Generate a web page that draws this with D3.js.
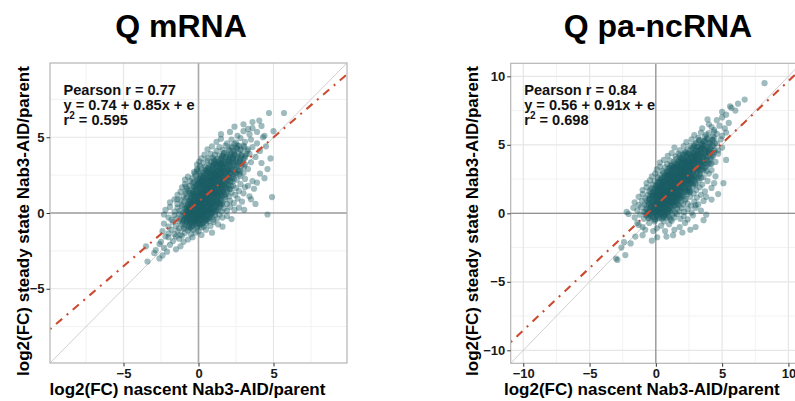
<!DOCTYPE html>
<meta charset="utf-8">
<style>
  body { margin: 0; background: #fff; }
  text { font-family: "Liberation Sans", Arial, sans-serif; font-weight: bold; }
  .tick text { font-size: 13px; fill: #1a1a1a; }
  .tick line { stroke: #333; }
</style>
<body>
<script src="https://cdn.jsdelivr.net/npm/d3@7"></script>
<script>

// values (log2 fold changes, nascent vs steady state)
var titles = ['Q mRNA', 'Q pa-ncRNA'];
var pearsonR = ['0.77', '0.84'];
var intercepts = [0.74, 0.56];
var slopes = [0.85, 0.91];
var rSquared = ['0.595', '0.698'];
var tickVals = [[-5, 0, 5], [-10, -5, 0, 5, 10]];
var minorVals = [[-7.5, -2.5, 2.5, 7.5], [-7.5, -2.5, 2.5, 7.5]];
var xLabel = 'log2(FC) nascent Nab3-AID/parent';
var yLabel = 'log2(FC) steady state Nab3-AID/parent';

var mrnaPts = [
  [-3.4,-3.2],[-2.6,-3.0],[-2.95,-2.65],[-2.4,-2.8],[-2.1,-2.55],
  [-3.5,-2.2],[-2.85,-2.45],[-2.3,-2.3],[-1.9,-2.1],[-1.5,-2.4],[-2.6,-2.05],[-1.2,-2.2],
  [-2.5,-1.9],[-2.0,-1.6],[-1.7,-1.85],[-1.3,-1.7],[-1.0,-1.9],[-2.2,-1.55],[-1.5,-1.55],[-0.7,-1.75],[-0.4,-1.6],[-1.1,-1.5],
  [-2.4,-1.2],[-2.0,-1.35],[-1.8,-1.1],[-1.6,-1.4],[-1.4,-1.2],[-1.2,-1.45],[-1.0,-1.05],[-0.9,-1.3],[-0.7,-1.15],[-0.5,-1.4],[-0.35,-1.1],[-0.2,-1.3],[0.0,-1.2],[0.2,-1.45],[0.5,-1.1],[0.9,-1.3],[-1.3,-1.0],[-0.6,-1.0],
  [-2.3,-0.7],[-2.0,-0.9],[-1.7,-0.6],[-1.5,-0.85],[-1.3,-0.55],[-1.1,-0.75],[-0.95,-0.95],[-0.8,-0.6],[-0.7,-0.8],[-0.55,-0.65],[-0.45,-0.9],[-0.3,-0.55],[-0.2,-0.75],[-0.1,-0.95],[0.0,-0.6],[0.1,-0.8],[0.25,-0.65],[0.35,-0.9],[0.5,-0.7],[0.65,-0.55],[0.8,-0.85],[1.0,-0.6],[1.3,-0.75],[1.6,-0.9],[-0.6,-0.52],[-0.15,-0.52],[0.45,-0.52],[-1.0,-0.52],[0.2,-0.95],[-0.4,-0.7],
  [-2.3,-0.1],[-2.0,-0.3],[-1.8,-0.45],[-1.6,-0.15],[-1.45,-0.35],[-1.3,-0.05],[-1.2,-0.4],[-1.1,-0.2],[-1.0,-0.45],[-0.9,-0.1],[-0.85,-0.3],[-0.75,-0.45],[-0.7,-0.05],[-0.6,-0.25],[-0.55,-0.4],[-0.45,-0.15],[-0.4,-0.35],[-0.3,-0.05],[-0.25,-0.25],[-0.2,-0.45],[-0.1,-0.15],[-0.05,-0.35],[0.0,-0.05],[0.1,-0.25],[0.15,-0.45],[0.2,-0.1],[0.3,-0.3],[0.35,-0.05],[0.45,-0.2],[0.5,-0.4],[0.6,-0.1],[0.7,-0.3],[0.8,-0.05],[0.9,-0.25],[1.0,-0.45],[1.1,-0.15],[1.25,-0.35],[1.4,-0.1],[1.6,-0.3],[1.9,-0.2],[2.2,-0.4],[-0.65,-0.15],[-0.15,-0.3],[0.25,-0.2],[0.55,-0.45],[4.6,-0.1],
  [-2.2,0.2],[-1.9,0.4],[-1.6,0.1],[-1.4,0.35],[-1.25,0.15],[-1.1,0.45],[-1.0,0.05],[-0.9,0.3],[-0.8,0.15],[-0.7,0.45],[-0.6,0.05],[-0.55,0.25],[-0.45,0.4],[-0.4,0.1],[-0.3,0.3],[-0.25,0.05],[-0.15,0.2],[-0.1,0.45],[0.0,0.1],[0.05,0.3],[0.15,0.05],[0.2,0.4],[0.3,0.2],[0.35,0.45],[0.45,0.1],[0.5,0.3],[0.6,0.05],[0.65,0.4],[0.75,0.2],[0.85,0.45],[0.9,0.1],[1.0,0.3],[1.1,0.05],[1.2,0.4],[1.3,0.2],[1.45,0.45],[1.55,0.1],[1.7,0.3],[1.9,0.15],[2.1,0.4],[2.4,0.2],[2.7,0.35],[3.05,0.2],[3.8,0.6],[-0.2,0.25],[0.4,0.25],[0.8,0.3],[1.15,0.2],[-0.5,0.2],[0.1,0.2],[0.55,0.15],[-0.75,0.3],[0.25,0.1],[0.7,0.1],[1.35,0.35],
  [-1.9,0.7],[-1.6,0.9],[-1.4,0.6],[-1.2,0.85],[-1.05,0.55],[-0.95,0.75],[-0.85,0.95],[-0.7,0.6],[-0.6,0.8],[-0.5,0.55],[-0.45,0.95],[-0.35,0.7],[-0.25,0.9],[-0.2,0.55],[-0.1,0.75],[0.0,0.95],[0.05,0.6],[0.15,0.8],[0.2,0.55],[0.3,0.95],[0.35,0.7],[0.45,0.85],[0.5,0.6],[0.6,0.9],[0.65,0.7],[0.75,0.55],[0.8,0.85],[0.9,0.65],[1.0,0.95],[1.05,0.7],[1.15,0.55],[1.25,0.85],[1.35,0.65],[1.45,0.95],[1.6,0.7],[1.75,0.9],[1.9,0.6],[2.1,0.8],[2.35,0.65],[2.6,0.95],[2.9,0.75],[-1.4,0.9],[0.1,0.7],[0.55,0.75],[0.95,0.8],[-0.15,0.65],[0.4,0.6],[0.7,0.95],[1.2,0.75],[-0.55,0.7],[0.25,0.85],[0.85,0.6],[1.5,0.6],[-0.3,0.85],[4.9,1.05],[3.5,0.9],
  [-1.4,1.2],[-1.2,1.4],[-1.0,1.1],[-0.85,1.3],[-0.75,1.05],[-0.65,1.45],[-0.5,1.2],[-0.4,1.35],[-0.3,1.1],[-0.2,1.45],[-0.1,1.25],[0.0,1.05],[0.1,1.35],[0.15,1.15],[0.25,1.45],[0.3,1.25],[0.4,1.05],[0.45,1.35],[0.55,1.2],[0.6,1.45],[0.7,1.1],[0.75,1.3],[0.85,1.45],[0.9,1.15],[1.0,1.35],[1.05,1.05],[1.15,1.25],[1.2,1.45],[1.3,1.1],[1.4,1.3],[1.5,1.15],[1.6,1.4],[1.75,1.2],[1.9,1.45],[2.05,1.1],[2.2,1.35],[2.45,1.2],[2.7,1.45],[3.0,1.3],[3.4,1.1],[-0.85,1.45],[0.05,1.2],[0.35,1.4],[0.65,1.25],[0.95,1.3],[1.25,1.2],[-0.35,1.25],[0.5,1.1],[0.8,1.2],[1.45,1.45],[-0.6,1.3],[0.2,1.3],[1.1,1.4],[0.6,1.3],[-0.15,1.15],
  [-1.1,1.7],[-0.9,1.9],[-0.75,1.6],[-0.6,1.8],[-0.5,1.55],[-0.4,1.95],[-0.3,1.7],[-0.2,1.85],[-0.1,1.6],[0.0,1.9],[0.1,1.7],[0.2,1.55],[0.25,1.95],[0.35,1.75],[0.45,1.6],[0.5,1.9],[0.6,1.7],[0.7,1.55],[0.75,1.85],[0.85,1.65],[0.95,1.95],[1.0,1.75],[1.1,1.55],[1.2,1.85],[1.3,1.65],[1.4,1.95],[1.5,1.75],[1.6,1.55],[1.7,1.85],[1.8,1.65],[1.95,1.9],[2.1,1.6],[2.3,1.8],[2.5,1.65],[2.8,1.9],[3.1,1.7],[-0.85,1.75],[0.3,1.8],[0.65,1.8],[1.05,1.9],[1.35,1.8],[0.15,1.85],[0.9,1.6],[1.25,1.7],[0.55,1.65],[-0.25,1.75],[1.55,1.9],[0.4,1.85],[0.8,1.75],[3.7,1.6],[3.3,1.8],
  [-0.9,2.2],[-0.7,2.4],[-0.55,2.1],[-0.4,2.3],[-0.3,2.05],[-0.2,2.45],[-0.05,2.25],[0.05,2.05],[0.15,2.4],[0.25,2.2],[0.35,2.45],[0.4,2.1],[0.5,2.3],[0.6,2.05],[0.65,2.45],[0.75,2.2],[0.85,2.4],[0.9,2.1],[1.0,2.3],[1.1,2.05],[1.15,2.45],[1.25,2.2],[1.35,2.4],[1.45,2.1],[1.55,2.3],[1.65,2.05],[1.75,2.45],[1.85,2.2],[2.0,2.35],[2.15,2.1],[2.3,2.4],[2.55,2.2],[2.8,2.45],[3.1,2.25],[3.6,2.1],[0.3,2.3],[0.7,2.3],[1.05,2.2],[1.4,2.25],[0.55,2.2],[0.95,2.4],[1.2,2.3],[-0.1,2.15],[1.6,2.4],[0.2,2.1],[0.8,2.1],[3.9,2.0],[4.4,2.3],
  [-0.3,2.7],[-0.1,2.9],[-0.25,2.6],[-0.1,2.8],[0.1,2.55],[0.2,2.95],[0.3,2.7],[0.45,2.85],[0.55,2.6],[0.65,2.95],[0.75,2.7],[0.85,2.55],[0.95,2.85],[1.05,2.65],[1.15,2.95],[1.25,2.75],[1.35,2.55],[1.45,2.85],[1.55,2.65],[1.65,2.95],[1.75,2.7],[1.85,2.55],[1.95,2.85],[2.1,2.65],[2.25,2.9],[2.45,2.6],[2.7,2.8],[3.0,2.65],[3.3,2.9],[0.4,2.65],[0.9,2.7],[1.3,2.8],[1.6,2.75],[0.6,2.8],[1.1,2.6],[2.0,2.75],[0.0,2.75],[1.45,2.65],[4.1,2.6],[4.6,2.9],
  [-0.1,3.2],[0.05,3.4],[0.1,3.1],[0.3,3.3],[0.45,3.05],[0.6,3.45],[0.7,3.2],[0.85,3.35],[0.95,3.1],[1.05,3.45],[1.15,3.25],[1.25,3.05],[1.35,3.4],[1.45,3.2],[1.55,3.05],[1.65,3.45],[1.75,3.25],[1.85,3.1],[1.95,3.4],[2.05,3.2],[2.2,3.05],[2.35,3.35],[2.55,3.15],[2.8,3.4],[3.1,3.2],[3.5,3.35],[1.0,3.2],[1.5,3.3],[0.8,3.1],[2.1,3.4],[1.3,3.2],[4.2,3.3],
  [0.2,3.6],[0.4,3.85],[0.6,3.6],[0.8,3.9],[0.95,3.65],[1.1,3.85],[1.25,3.55],[1.4,3.8],[1.55,3.6],[1.7,3.95],[1.85,3.7],[2.0,3.55],[2.1,3.85],[2.25,3.65],[2.4,3.9],[2.6,3.6],[2.85,3.8],[3.1,3.65],[3.4,3.9],[3.8,3.7],[1.6,3.75],[2.3,3.75],[1.0,3.55],[4.8,3.6],
  [0.6,4.2],[0.9,4.4],[1.2,4.1],[1.4,4.35],[1.6,4.15],[1.8,4.45],[2.0,4.2],[2.2,4.4],[2.35,4.1],[2.55,4.3],[2.8,4.15],[3.0,4.45],[3.3,4.2],[3.6,4.35],[4.1,4.1],[2.6,4.45],[4.5,4.4],
  [1.2,4.7],[1.5,4.9],[1.9,4.6],[2.2,4.85],[2.5,4.65],[2.8,4.95],[3.1,4.7],[3.5,4.85],[3.9,4.6],[2.4,4.55],[4.3,5.0],
  [1.5,5.2],[2.1,5.35],[2.6,5.1],[3.0,5.4],[3.4,5.2],[3.9,5.35],[4.4,5.1],[5.0,5.4],
  [2.4,5.7],[3.0,5.85],[3.6,5.6],[4.2,5.75],[3.3,5.55],
  [3.6,6.0],[4.05,6.1],[4.7,6.6],[5.7,6.6],
  // dense core
  [-1.05,-0.62],[-0.9,-0.78],[-0.78,-0.55],[-0.66,-0.92],[-0.58,-0.7],[-0.47,-0.57],[-0.38,-0.83],[-0.28,-0.66],[-0.18,-0.58],[-0.08,-0.88],[0.02,-0.72],[0.12,-0.56],[0.22,-0.75],[0.33,-0.62],[-0.52,-0.98],
  [-0.98,-0.18],[-0.9,-0.38],[-0.82,-0.08],[-0.74,-0.27],[-0.67,-0.45],[-0.6,-0.12],[-0.52,-0.32],[-0.44,-0.04],[-0.37,-0.22],[-0.3,-0.42],[-0.22,-0.1],[-0.15,-0.36],[-0.07,-0.2],[0.0,-0.4],[0.07,-0.06],[0.14,-0.28],[0.22,-0.44],[0.29,-0.14],[0.37,-0.34],[0.44,-0.02],[0.52,-0.24],[0.6,-0.4],[0.68,-0.16],[0.77,-0.3],[0.86,-0.08],
  [-0.88,0.08],[-0.8,0.28],[-0.72,0.42],[-0.65,0.16],[-0.58,0.34],[-0.5,0.04],[-0.43,0.22],[-0.36,0.46],[-0.29,0.12],[-0.22,0.32],[-0.15,0.02],[-0.08,0.24],[-0.01,0.44],[0.06,0.14],[0.13,0.36],[0.2,0.06],[0.27,0.28],[0.34,0.48],[0.41,0.18],[0.48,0.38],[0.55,0.08],[0.62,0.26],[0.69,0.44],[0.76,0.14],[0.84,0.34],[0.92,0.04],[1.0,0.22],[1.08,0.42],[1.16,0.12],[0.3,0.16],
  [-0.68,0.58],[-0.6,0.78],[-0.52,0.94],[-0.45,0.64],[-0.37,0.84],[-0.29,0.54],[-0.21,0.72],[-0.13,0.96],[-0.05,0.62],[0.03,0.82],[0.11,0.52],[0.19,0.74],[0.27,0.92],[0.35,0.6],[0.43,0.8],[0.51,0.98],[0.59,0.66],[0.67,0.86],[0.75,0.56],[0.83,0.76],[0.91,0.94],[0.99,0.64],[1.07,0.84],[1.15,0.54],[1.23,0.72],[1.31,0.92],[1.39,0.62],[1.48,0.82],[1.56,0.56],[0.4,0.68],
  [-0.48,1.08],[-0.4,1.28],[-0.32,1.46],[-0.24,1.14],[-0.16,1.34],[-0.08,1.04],[0.0,1.22],[0.08,1.44],[0.16,1.12],[0.24,1.32],[0.32,1.02],[0.4,1.24],[0.48,1.42],[0.56,1.1],[0.64,1.3],[0.72,1.48],[0.8,1.16],[0.88,1.36],[0.96,1.06],[1.04,1.26],[1.12,1.44],[1.2,1.14],[1.28,1.34],[1.36,1.04],[1.44,1.22],[1.52,1.42],[1.6,1.12],[1.69,1.32],[1.78,1.06],[1.86,1.26],
  [-0.18,1.58],[-0.1,1.78],[-0.02,1.96],[0.06,1.64],[0.14,1.84],[0.22,1.54],[0.3,1.72],[0.38,1.94],[0.46,1.62],[0.54,1.82],[0.62,1.52],[0.7,1.74],[0.78,1.92],[0.86,1.6],[0.94,1.8],[1.02,1.98],[1.1,1.66],[1.18,1.86],[1.26,1.56],[1.34,1.76],[1.42,1.94],[1.5,1.64],[1.58,1.84],[1.66,1.54],[1.74,1.72],[1.82,1.92],[1.9,1.62],[1.98,1.82],[2.07,1.56],[2.16,1.76],
  [0.02,2.08],[0.1,2.28],[0.18,2.46],[0.26,2.14],[0.34,2.34],[0.42,2.04],[0.5,2.22],[0.58,2.44],[0.66,2.12],[0.74,2.32],[0.82,2.02],[0.9,2.24],[0.98,2.42],[1.06,2.1],[1.14,2.3],[1.22,2.48],[1.3,2.16],[1.38,2.36],[1.46,2.06],[1.54,2.26],[1.62,2.44],[1.7,2.14],[1.78,2.34],[1.86,2.04],[1.94,2.22],[2.02,2.42],[2.1,2.12],[2.18,2.32],[2.27,2.06],[2.36,2.26],
  [0.45,2.58],[0.53,2.78],[0.61,2.96],[0.69,2.64],[0.77,2.84],[0.85,2.54],[0.93,2.72],[1.01,2.94],[1.09,2.62],[1.17,2.82],[1.25,2.52],[1.33,2.74],[1.41,2.92],[1.49,2.6],[1.57,2.8],[1.65,2.98],[1.73,2.66],[1.81,2.86],[1.89,2.56],[1.97,2.76],[2.05,2.94],[2.13,2.64],[2.21,2.84],[2.29,2.54],[2.37,2.72],[2.45,2.92],[2.53,2.62],[2.61,2.82],[2.7,2.56],[2.78,2.76],
  [0.95,3.08],[1.04,3.28],[1.13,3.46],[1.22,3.14],[1.31,3.34],[1.4,3.04],[1.49,3.22],[1.58,3.44],[1.67,3.12],[1.76,3.32],[1.85,3.02],[1.94,3.24],[2.03,3.42],[2.12,3.1],[2.21,3.3],[2.3,3.48],[2.39,3.16],[2.48,3.36],[2.57,3.06],[2.66,3.26],[2.75,3.44],[2.84,3.14],[2.93,3.34],[3.02,3.04],[1.6,3.28],
  [1.5,3.58],[1.6,3.78],[1.7,3.96],[1.8,3.64],[1.9,3.84],[2.0,3.54],[2.1,3.72],[2.2,3.94],[2.3,3.62],[2.4,3.82],[2.5,3.52],[2.6,3.74],[2.7,3.92],[2.8,3.6],[2.9,3.8],[3.0,3.56],[3.1,3.76],[3.2,3.9],
  [2.05,4.12],[2.2,4.32],[2.4,4.08],[2.55,4.26],[2.7,4.44],[2.85,4.18],[3.05,4.36],[3.25,4.1]
];

var ncPts = [
  [-2.9,-3.4],[-3.0,-3.3],[-2.3,-3.05],[-2.6,-2.5],
  [-2.4,-2.1],[-1.9,-2.2],[-1.55,-1.7],[0.1,-1.75],[0.8,-1.7],[-0.3,-2.0],[1.3,-1.6],[-1.0,-1.6],
  [-1.3,-0.85],[-0.8,-1.2],[0.07,-1.1],[1.8,-1.0],[3.0,-1.0],[3.6,-0.5],[-1.4,-0.7],[-0.5,-0.7],[-0.2,-1.3],[0.4,-0.9],[0.7,-1.3],[1.0,-0.8],[1.4,-1.2],[2.2,-0.7],[2.6,-1.2],[-0.1,-0.6],[0.6,-0.6],[1.2,-0.55],[2.0,-1.4],[-1.0,-1.0],
  [-2.06,-0.05],[-1.6,-0.3],[-1.2,-0.1],[-0.9,-0.4],[-0.7,-0.15],[-0.5,-0.35],[-0.35,-0.05],[-0.2,-0.25],[-0.05,-0.45],[0.05,-0.1],[0.2,-0.3],[0.3,-0.05],[0.45,-0.4],[0.55,-0.2],[0.7,-0.05],[0.8,-0.35],[0.95,-0.15],[1.1,-0.45],[1.25,-0.1],[1.4,-0.3],[1.6,-0.05],[1.85,-0.4],[2.1,-0.2],[2.4,-0.45],[2.8,-0.15],[3.8,-0.1],[0.1,-0.2],[0.6,-0.25],[-0.4,-0.2],[1.0,-0.3],
  [-2.2,0.1],[-1.7,0.4],[-1.4,0.2],[-1.1,0.45],[-0.9,0.1],[-0.7,0.3],[-0.55,0.05],[-0.4,0.4],[-0.3,0.2],[-0.15,0.05],[-0.05,0.35],[0.05,0.15],[0.15,0.45],[0.25,0.05],[0.35,0.3],[0.45,0.1],[0.55,0.4],[0.65,0.2],[0.75,0.45],[0.85,0.05],[0.95,0.3],[1.05,0.15],[1.15,0.45],[1.3,0.25],[1.45,0.05],[1.6,0.35],[1.75,0.15],[1.95,0.4],[2.15,0.1],[2.4,0.3],[2.7,0.05],[3.0,0.4],[3.4,0.2],[0.2,0.25],[0.6,0.1],[0.9,0.2],[-0.2,0.3],[0.4,0.2],[1.2,0.35],[0.0,0.1],
  [-1.6,0.8],[-1.3,0.6],[-1.05,0.9],[-0.85,0.65],[-0.65,0.95],[-0.5,0.7],[-0.35,0.55],[-0.25,0.85],[-0.1,0.65],[0.0,0.95],[0.1,0.7],[0.2,0.55],[0.25,0.9],[0.35,0.75],[0.45,0.6],[0.5,0.95],[0.6,0.8],[0.7,0.55],[0.75,0.9],[0.85,0.7],[0.95,0.55],[1.0,0.85],[1.1,0.65],[1.2,0.95],[1.3,0.75],[1.4,0.55],[1.5,0.9],[1.6,0.7],[1.75,0.6],[1.9,0.85],[2.05,0.65],[2.2,0.95],[2.4,0.7],[2.65,0.55],[2.9,0.85],[3.2,0.65],[3.0,0.6],[3.6,0.9],[4.2,1.0],[0.3,0.65],[0.65,0.7],[0.9,0.9],[1.15,0.8],[0.05,0.8],[0.55,0.65],[1.35,0.85],[-0.2,0.75],[0.8,0.6],[1.7,0.95],[0.4,0.85],
  [-1.3,1.2],[-1.0,1.4],[-0.8,1.1],[-0.6,1.35],[-0.45,1.05],[-0.3,1.25],[-0.15,1.45],[-0.05,1.15],[0.1,1.35],[0.2,1.05],[0.3,1.45],[0.4,1.2],[0.5,1.05],[0.55,1.4],[0.65,1.25],[0.75,1.05],[0.8,1.45],[0.9,1.2],[1.0,1.35],[1.1,1.05],[1.15,1.45],[1.25,1.25],[1.35,1.1],[1.45,1.4],[1.55,1.2],[1.65,1.05],[1.75,1.35],[1.85,1.15],[1.95,1.45],[2.1,1.25],[2.25,1.05],[2.4,1.4],[2.6,1.2],[2.85,1.45],[3.1,1.15],[3.4,1.35],[3.8,1.2],[4.7,1.4],[0.35,1.3],[0.7,1.35],[1.05,1.2],[1.4,1.3],[0.15,1.2],[0.6,1.15],[0.95,1.1],[1.3,1.45],[1.7,1.25],[-0.2,1.3],[0.45,1.35],[0.85,1.3],[1.2,1.15],[2.0,1.3],[0.25,1.25],[1.6,1.4],[0.0,1.4],
  [-1.0,1.7],[-0.7,1.9],[-0.5,1.6],[-0.3,1.85],[-0.15,1.55],[0.0,1.75],[0.1,1.95],[0.2,1.6],[0.3,1.8],[0.4,1.55],[0.5,1.95],[0.6,1.7],[0.7,1.55],[0.75,1.9],[0.85,1.7],[0.95,1.55],[1.0,1.85],[1.1,1.65],[1.2,1.95],[1.3,1.75],[1.4,1.55],[1.5,1.9],[1.6,1.7],[1.7,1.55],[1.8,1.85],[1.9,1.65],[2.0,1.95],[2.15,1.7],[2.3,1.55],[2.45,1.85],[2.6,1.65],[2.8,1.95],[3.05,1.7],[3.3,1.9],[3.7,1.6],[4.2,1.85],[0.35,1.7],[0.65,1.85],[0.9,1.75],[1.25,1.6],[1.55,1.8],[1.85,1.75],[0.15,1.75],[0.55,1.6],[1.05,1.7],[1.35,1.9],[2.2,1.85],[0.45,1.85],[0.8,1.6],[1.15,1.8],[1.65,1.95],[-0.4,1.75],[2.5,1.6],[1.45,1.7],[0.25,1.9],
  [-0.7,2.2],[-0.45,2.4],[-0.25,2.1],[-0.1,2.35],[0.05,2.05],[0.2,2.3],[0.3,2.45],[0.45,2.15],[0.55,2.35],[0.65,2.05],[0.75,2.4],[0.85,2.2],[0.95,2.45],[1.05,2.1],[1.15,2.3],[1.25,2.05],[1.3,2.45],[1.4,2.25],[1.5,2.05],[1.6,2.4],[1.7,2.2],[1.8,2.05],[1.9,2.35],[2.0,2.15],[2.1,2.45],[2.2,2.25],[2.35,2.05],[2.5,2.35],[2.65,2.15],[2.8,2.45],[3.0,2.2],[3.25,2.4],[3.5,2.1],[3.9,2.35],[4.4,2.2],[5.1,2.2],[0.6,2.25],[0.9,2.3],[1.2,2.2],[1.55,2.25],[1.85,2.3],[2.3,2.3],[0.4,2.3],[1.0,2.25],[1.45,2.4],[1.75,2.35],[2.05,2.2],[0.15,2.2],[0.7,2.15],[1.1,2.4],[2.6,2.3],[1.35,2.15],[0.5,2.05],[1.65,2.1],[2.45,2.45],
  [-0.3,2.7],[-0.05,2.9],[0.15,2.6],[0.3,2.8],[0.45,2.55],[0.55,2.95],[0.7,2.7],[0.85,2.55],[0.95,2.85],[1.05,2.65],[1.15,2.95],[1.25,2.75],[1.35,2.55],[1.45,2.85],[1.55,2.65],[1.65,2.95],[1.75,2.75],[1.85,2.55],[1.95,2.85],[2.05,2.65],[2.15,2.95],[2.25,2.7],[2.35,2.55],[2.45,2.85],[2.6,2.65],[2.75,2.95],[2.9,2.7],[3.1,2.55],[3.3,2.85],[3.6,2.65],[4.0,2.9],[4.5,2.7],[1.0,2.75],[1.3,2.85],[1.6,2.75],[1.9,2.7],[2.2,2.8],[2.5,2.75],[0.8,2.8],[1.2,2.6],[1.7,2.6],[2.0,2.9],[2.4,2.65],[0.6,2.65],[1.4,2.7],[2.7,2.6],[1.8,2.9],[1.1,2.8],
  [0.07,3.2],[0.3,3.4],[0.5,3.1],[0.7,3.35],[0.85,3.05],[1.0,3.3],[1.1,3.45],[1.2,3.15],[1.3,3.35],[1.4,3.05],[1.5,3.45],[1.6,3.2],[1.7,3.05],[1.8,3.4],[1.9,3.2],[2.0,3.05],[2.1,3.35],[2.2,3.15],[2.3,3.45],[2.4,3.25],[2.5,3.05],[2.6,3.4],[2.7,3.2],[2.85,3.05],[3.0,3.35],[3.15,3.15],[3.35,3.45],[3.55,3.2],[3.8,3.4],[4.2,3.15],[1.45,3.3],[1.75,3.25],[2.05,3.3],[2.35,3.1],[2.65,3.3],[1.25,3.25],[1.95,3.45],[2.25,3.3],[2.55,3.2],[1.6,3.4],[2.9,3.25],[0.9,3.2],[3.2,3.3],[2.15,3.05],[1.85,3.1],
  [0.3,3.7],[0.6,3.9],[0.85,3.6],[1.05,3.85],[1.2,3.55],[1.35,3.75],[1.5,3.95],[1.6,3.6],[1.75,3.8],[1.85,3.55],[1.95,3.95],[2.05,3.7],[2.15,3.55],[2.25,3.85],[2.35,3.65],[2.45,3.95],[2.55,3.75],[2.65,3.55],[2.75,3.85],[2.85,3.65],[2.95,3.95],[3.1,3.7],[3.25,3.55],[3.4,3.85],[3.6,3.65],[3.85,3.9],[4.1,3.6],[5.3,3.9],[4.5,3.75],[2.2,3.75],[2.5,3.6],[2.8,3.8],[3.0,3.6],[1.9,3.75],[2.4,3.85],[2.7,3.7],[3.2,3.9],[1.45,3.65],[2.1,3.9],[3.5,3.75],
  [0.9,4.2],[1.2,4.4],[1.5,4.15],[1.7,4.35],[1.9,4.05],[2.05,4.3],[2.2,4.45],[2.35,4.15],[2.5,4.35],[2.65,4.05],[2.8,4.4],[2.95,4.2],[3.1,4.05],[3.2,4.45],[3.35,4.25],[3.5,4.05],[3.65,4.4],[3.8,4.2],[4.0,4.45],[4.3,4.15],[4.7,4.35],[2.6,4.25],[2.9,4.3],[3.0,4.1],[3.4,4.35],[2.3,4.3],[1.8,4.2],[3.7,4.1],[2.75,4.15],[3.25,4.3],
  [1.4,4.8],[1.8,4.6],[2.1,4.9],[2.4,4.65],[2.6,4.95],[2.8,4.7],[3.0,4.55],[3.15,4.85],[3.3,4.65],[3.45,4.95],[3.6,4.7],[3.75,4.55],[3.9,4.85],[4.1,4.65],[4.35,4.9],[4.7,4.6],[5.0,4.8],[3.4,4.75],[3.2,4.6],[2.9,4.85],[3.7,4.9],[4.0,4.6],
  [2.3,5.2],[2.7,5.4],[3.0,5.1],[3.3,5.35],[3.5,5.05],[3.7,5.3],[3.9,5.45],[4.1,5.15],[4.3,5.35],[4.6,5.1],[4.9,5.4],[3.6,5.2],[4.0,5.05],[3.2,5.5],[4.4,5.5],
  [2.9,5.7],[3.4,5.9],[3.7,5.6],[4.0,5.85],[4.3,5.6],[4.6,5.8],[5.0,5.65],[3.8,5.75],[4.4,5.95],[5.3,5.9],
  [3.5,6.2],[4.0,6.5],[4.4,6.1],[4.8,6.4],[5.2,6.2],[4.6,6.8],[5.5,6.6],[3.9,6.85],[5.0,7.0],[4.2,6.3],
  [5.0,7.4],[5.6,7.8],[6.2,8.0],[5.7,7.7],[6.7,8.3],[5.3,7.2],[6.0,7.5],
  [8.2,9.5],
  // dense core
  [-0.75,-0.12],[-0.58,-0.34],[-0.42,-0.08],[-0.26,-0.3],[-0.1,-0.46],[0.06,-0.16],[0.22,-0.38],[0.38,-0.06],[0.54,-0.28],[0.7,-0.14],
  [-0.78,0.12],[-0.68,0.34],[-0.58,0.06],[-0.48,0.26],[-0.38,0.46],[-0.28,0.16],[-0.18,0.36],[-0.08,0.04],[0.02,0.24],[0.12,0.44],[0.22,0.14],[0.32,0.34],[0.42,0.02],[0.52,0.22],[0.62,0.42],[0.72,0.12],[0.82,0.32],[0.92,0.06],[1.0,0.26],[0.1,0.3],
  [-0.68,0.58],[-0.58,0.78],[-0.48,0.96],[-0.38,0.64],[-0.28,0.84],[-0.18,0.54],[-0.08,0.72],[0.02,0.94],[0.12,0.62],[0.22,0.82],[0.32,0.52],[0.42,0.74],[0.52,0.92],[0.62,0.6],[0.72,0.8],[0.82,0.98],[0.92,0.66],[1.02,0.86],[1.12,0.56],[1.22,0.76],[1.32,0.94],[1.42,0.64],[1.52,0.84],[1.6,0.58],[0.5,0.7],
  [-0.5,1.08],[-0.42,1.28],[-0.34,1.46],[-0.26,1.14],[-0.18,1.34],[-0.1,1.04],[-0.02,1.22],[0.06,1.44],[0.14,1.12],[0.22,1.32],[0.3,1.02],[0.38,1.24],[0.46,1.42],[0.54,1.1],[0.62,1.3],[0.7,1.48],[0.78,1.16],[0.86,1.36],[0.94,1.06],[1.02,1.26],[1.1,1.44],[1.18,1.14],[1.26,1.34],[1.34,1.04],[1.42,1.22],[1.5,1.42],[1.58,1.12],[1.68,1.32],[1.8,1.06],[1.92,1.26],
  [-0.2,1.58],[-0.1,1.78],[0.0,1.96],[0.1,1.64],[0.2,1.84],[0.3,1.54],[0.4,1.72],[0.5,1.94],[0.6,1.62],[0.7,1.82],[0.8,1.52],[0.9,1.74],[1.0,1.92],[1.1,1.6],[1.2,1.8],[1.3,1.98],[1.4,1.66],[1.5,1.86],[1.6,1.56],[1.7,1.76],[1.8,1.94],[1.9,1.64],[2.0,1.84],[2.1,1.54],[2.2,1.72],[2.3,1.92],[2.4,1.62],[2.5,1.82],[2.58,1.56],[1.25,1.7],
  [0.2,2.08],[0.3,2.28],[0.4,2.46],[0.5,2.14],[0.6,2.34],[0.7,2.04],[0.8,2.22],[0.9,2.44],[1.0,2.12],[1.1,2.32],[1.2,2.02],[1.3,2.24],[1.4,2.42],[1.5,2.1],[1.6,2.3],[1.7,2.48],[1.8,2.16],[1.9,2.36],[2.0,2.06],[2.1,2.26],[2.2,2.44],[2.3,2.14],[2.4,2.34],[2.5,2.04],[2.6,2.22],[2.7,2.42],[2.8,2.12],[2.9,2.32],[3.0,2.1],[1.45,2.26],
  [0.6,2.58],[0.7,2.78],[0.8,2.96],[0.9,2.64],[1.0,2.84],[1.1,2.54],[1.2,2.72],[1.3,2.94],[1.4,2.62],[1.5,2.82],[1.6,2.52],[1.7,2.74],[1.8,2.92],[1.9,2.6],[2.0,2.8],[2.1,2.98],[2.2,2.66],[2.3,2.86],[2.4,2.56],[2.5,2.76],[2.6,2.94],[2.7,2.64],[2.8,2.84],[2.9,2.54],[3.0,2.72],[3.1,2.92],[3.2,2.62],[3.3,2.82],[3.42,2.58],[2.05,2.7],
  [1.0,3.08],[1.1,3.28],[1.2,3.46],[1.3,3.14],[1.4,3.34],[1.5,3.04],[1.6,3.22],[1.7,3.44],[1.8,3.12],[1.9,3.32],[2.0,3.02],[2.1,3.24],[2.2,3.42],[2.3,3.1],[2.4,3.3],[2.5,3.48],[2.6,3.16],[2.7,3.36],[2.8,3.06],[2.9,3.26],[3.0,3.44],[3.1,3.14],[3.2,3.34],[3.3,3.04],[3.4,3.22],[3.5,3.42],[3.6,3.12],[3.7,3.32],[3.82,3.08],[2.45,3.2],
  [1.6,3.58],[1.7,3.78],[1.8,3.96],[1.9,3.64],[2.0,3.84],[2.1,3.54],[2.2,3.72],[2.3,3.94],[2.4,3.62],[2.5,3.82],[2.6,3.52],[2.7,3.74],[2.8,3.92],[2.9,3.6],[3.0,3.8],[3.1,3.98],[3.2,3.66],[3.3,3.86],[3.4,3.56],[3.5,3.76],[3.6,3.94],[3.7,3.64],[3.8,3.84],[3.9,3.54],[4.0,3.72],[4.1,3.92],[4.2,3.62],[2.85,3.7],
  [2.0,4.08],[2.12,4.28],[2.24,4.46],[2.36,4.14],[2.48,4.34],[2.6,4.04],[2.72,4.22],[2.84,4.44],[2.96,4.12],[3.08,4.32],[3.2,4.02],[3.32,4.24],[3.44,4.42],[3.56,4.1],[3.68,4.3],[3.8,4.48],[3.92,4.16],[4.04,4.36],[4.16,4.06],[4.28,4.26],[4.4,4.44],[3.0,4.25],
  [2.6,4.58],[2.74,4.78],[2.88,4.96],[3.02,4.64],[3.16,4.84],[3.3,4.54],[3.44,4.72],[3.58,4.94],[3.72,4.62],[3.86,4.82],[4.0,4.52],[4.14,4.74],[4.28,4.92],[4.42,4.6],[3.5,4.8],
  [3.05,5.12],[3.25,5.32],[3.45,5.08],[3.65,5.28],[3.85,5.46],[4.05,5.16],[4.25,5.36],[4.45,5.1]
];

var pointSets = [mrnaPts, ncPts];

// layout of the two panels (pixels) and their axis limits
var panels = [
  { left: 50, right: 347, top: 63, bottom: 363, lim: 9.9, titleX: 181, labelX: 29 },
  { left: 510.7, right: 801, top: 63.3, bottom: 363.3, lim: 10.95, titleX: 658, labelX: 478 }
];

var width = 795, height = 401;
var svg = d3.select('body').append('svg').attr('width', width).attr('height', height);

panels.forEach(function (p, i) {
  var x = d3.scaleLinear().domain([-p.lim, p.lim]).range([p.left, p.right]);
  var y = d3.scaleLinear().domain([-p.lim, p.lim]).range([p.bottom, p.top]);
  var g = svg.append('g');

  g.append('clipPath').attr('id', 'clip' + i).append('rect')
    .attr('x', p.left).attr('y', p.top).attr('width', p.right - p.left).attr('height', p.bottom - p.top);

  var inner = g.append('g').attr('clip-path', 'url(#clip' + i + ')');

  // grid
  minorVals[i].forEach(function (v) {
    inner.append('line').attr('x1', x(v)).attr('x2', x(v)).attr('y1', p.top).attr('y2', p.bottom)
      .attr('stroke', '#f2f2f2').attr('stroke-width', 1);
    inner.append('line').attr('y1', y(v)).attr('y2', y(v)).attr('x1', p.left).attr('x2', p.right)
      .attr('stroke', '#f2f2f2').attr('stroke-width', 1);
  });
  tickVals[i].forEach(function (v) {
    inner.append('line').attr('x1', x(v)).attr('x2', x(v)).attr('y1', p.top).attr('y2', p.bottom)
      .attr('stroke', '#e6e6e6').attr('stroke-width', 1.2);
    inner.append('line').attr('y1', y(v)).attr('y2', y(v)).attr('x1', p.left).attr('x2', p.right)
      .attr('stroke', '#e6e6e6').attr('stroke-width', 1.2);
  });

  // identity line
  inner.append('line').attr('x1', x(-p.lim)).attr('y1', y(-p.lim)).attr('x2', x(p.lim)).attr('y2', y(p.lim))
    .attr('stroke', '#c9c9c9').attr('stroke-width', 0.9);

  // zero lines
  inner.append('line').attr('x1', x(0)).attr('x2', x(0)).attr('y1', p.top).attr('y2', p.bottom)
    .attr('stroke', i === 0 ? '#aaaaaa' : '#777').attr('stroke-width', i === 0 ? 1.6 : 1);
  inner.append('line').attr('y1', y(0)).attr('y2', y(0)).attr('x1', p.left).attr('x2', p.right)
    .attr('stroke', '#777').attr('stroke-width', 1.1);

  // points
  inner.append('g').selectAll('circle').data(pointSets[i]).enter().append('circle')
    .attr('cx', function (d) { return x(d[0]); })
    .attr('cy', function (d) { return y(d[1]); })
    .attr('r', 3.1)
    .attr('fill', '#1b5e63')
    .attr('fill-opacity', 0.42);

  // regression line
  var fit = function (v) { return intercepts[i] + slopes[i] * v; };
  inner.append('line').attr('x1', x(-p.lim)).attr('y1', y(fit(-p.lim)))
    .attr('x2', x(p.lim)).attr('y2', y(fit(p.lim)))
    .attr('stroke', '#cc4a30').attr('stroke-width', 2.1)
    .attr('stroke-dasharray', '2,6,8,6');

  // border
  g.append('rect').attr('x', p.left).attr('y', p.top).attr('width', p.right - p.left).attr('height', p.bottom - p.top)
    .attr('fill', 'none').attr('stroke', '#b5b5b5').attr('stroke-width', 1.2);

  // axes
  var xAxis = g.append('g').attr('transform', 'translate(0,' + p.bottom + ')')
    .call(d3.axisBottom(x).tickValues(tickVals[i]).tickSize(3.5).tickPadding(2));
  var yAxis = g.append('g').attr('transform', 'translate(' + p.left + ',0)')
    .call(d3.axisLeft(y).tickValues(tickVals[i]).tickSize(3.5).tickPadding(2));
  xAxis.select('.domain').remove();
  yAxis.select('.domain').remove();
  xAxis.selectAll('.tick text').attr('font-size', 13);
  yAxis.selectAll('.tick text').attr('font-size', 13);

  // annotation
  var ax = p.left + 13.5;
  var ann = g.append('g').attr('font-size', 14.6).attr('fill', '#111');
  ann.append('text').attr('x', ax).attr('y', 95.4).text('Pearson r = ' + pearsonR[i]);
  ann.append('text').attr('x', ax).attr('y', 110)
    .text('y = ' + intercepts[i].toFixed(2) + ' + ' + slopes[i].toFixed(2) + 'x + e');
  var r2 = ann.append('text').attr('x', ax).attr('y', 124.6).text('r');
  r2.append('tspan').attr('dy', -5.5).attr('font-size', 10).text('2');
  r2.append('tspan').attr('dy', 5.5).text(' = ' + rSquared[i]);

  // titles and axis labels
  svg.append('text').attr('x', p.titleX).attr('y', 37).attr('text-anchor', 'middle')
    .attr('font-size', 32).text(titles[i]);
  svg.append('text').attr('x', (p.left + Math.min(p.right, width)) / 2 - 11).attr('y', 394.5)
    .attr('text-anchor', 'middle').attr('font-size', 17).text(xLabel);
  svg.append('text').attr('transform', 'translate(' + p.labelX + ',221) rotate(-90)')
    .attr('text-anchor', 'middle').attr('font-size', 17).text(yLabel);
});

</script>
</body>
</html>
